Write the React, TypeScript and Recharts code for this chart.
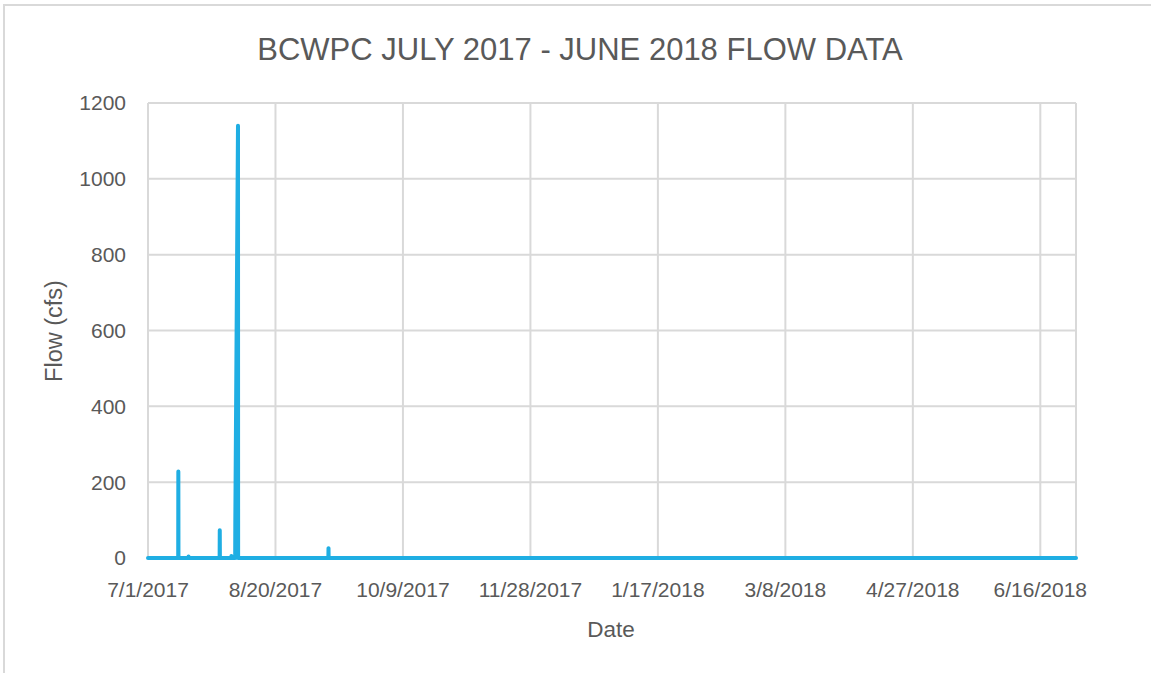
import React from 'react';
import { LineChart, Line, XAxis, YAxis, CartesianGrid } from 'recharts';

// Time in days since 7/1/2017 (sub-daily readings) and flow (cfs)
const days = [0, 11.85, 11.9, 11.95, 15.85, 15.9, 15.95, 28.1, 28.15, 28.2, 32.65, 32.7, 32.75, 34.2, 34.25, 35.3, 35.35, 70.75, 70.8, 70.85, 364];
const flows = [0, 0, 228, 0, 0, 4, 0, 0, 73, 0, 0, 5, 0, 0, 95, 1140, 0, 0, 26, 0, 0];

const xTicks = [0, 50, 100, 150, 200, 250, 300, 350];
const xTickLabels = ['7/1/2017', '8/20/2017', '10/9/2017', '11/28/2017', '1/17/2018', '3/8/2018', '4/27/2018', '6/16/2018'];
const yTicks = [0, 200, 400, 600, 800, 1000, 1200];

const data = days.map((d, i) => ({ day: d, flow: flows[i] }));

const FONT = '"Liberation Sans", Arial, sans-serif';
const TXT = '#595959';
const GRID = '#D9D9D9';
const LINE = '#1FAEE3';

export default function App() {
  return (
    <div style={{ position: 'absolute', left: 0, top: 0, width: 1151, height: 673, background: '#fff', overflow: 'hidden' }}>
      <LineChart
        width={1151}
        height={673}
        data={data}
        margin={{ left: 48, right: 75, top: 103, bottom: 15 }}
        style={{ position: 'absolute', left: 0, top: 0 }}
      >
        <CartesianGrid stroke={GRID} strokeWidth={2} />
        <XAxis
          dataKey="day"
          type="number"
          domain={[0, 364]}
          ticks={xTicks}
          tickFormatter={(v: number) => xTickLabels[xTicks.indexOf(v)] ?? ''}
          axisLine={false}
          tickLine={false}
          tickMargin={18}
          height={100}
          tick={{ fill: TXT, fontSize: 21, fontFamily: FONT }}
          interval={0}
        />
        <YAxis
          type="number"
          domain={[0, 1200]}
          ticks={yTicks}
          axisLine={false}
          tickLine={false}
          tickMargin={16}
          width={100}
          tick={{ fill: TXT, fontSize: 21, fontFamily: FONT }}
          interval={0}
        />
        <Line
          type="linear"
          dataKey="flow"
          stroke={LINE}
          strokeWidth={4}
          dot={false}
          activeDot={false}
          strokeLinejoin="round"
          strokeLinecap="round"
          isAnimationActive={false}
        />
      </LineChart>
      <svg width={1151} height={673} style={{ position: 'absolute', left: 0, top: 0, pointerEvents: 'none' }}>
        <line x1={4} y1={4} x2={4} y2={673} stroke={GRID} strokeWidth={2} />
        <line x1={3} y1={5} x2={1151} y2={5} stroke={GRID} strokeWidth={2} />
        <text x={580} y={59.5} textAnchor="middle" fontSize={31} fill={TXT} fontFamily={FONT}>
          BCWPC JULY 2017 - JUNE 2018 FLOW DATA
        </text>
        <text x={611} y={637} textAnchor="middle" fontSize={22.5} fill={TXT} fontFamily={FONT}>
          Date
        </text>
        <text
          x={62}
          y={331}
          textAnchor="middle"
          fontSize={23.5}
          fill={TXT}
          fontFamily={FONT}
          transform="rotate(-90 62 331)"
        >
          Flow (cfs)
        </text>
      </svg>
    </div>
  );
}
